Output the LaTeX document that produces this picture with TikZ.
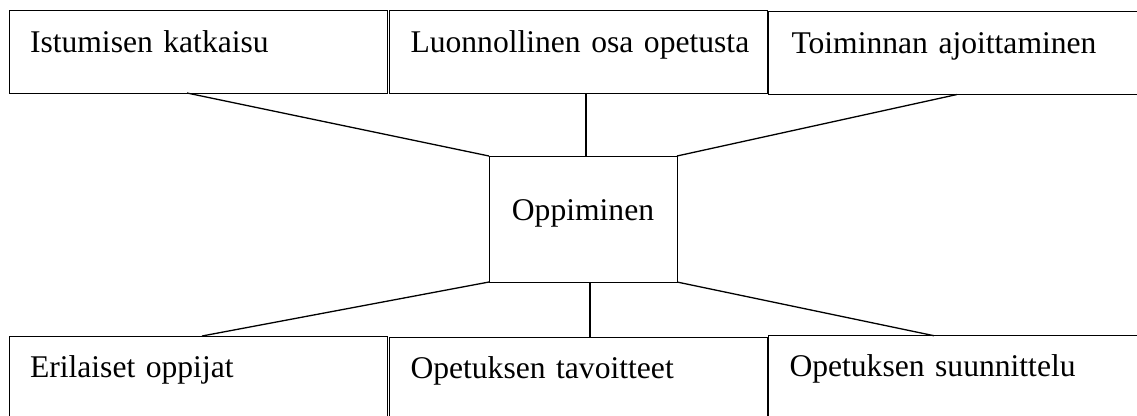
\documentclass[tikz,border=0pt]{standalone}
\usepackage{fontspec}
\setmainfont{Liberation Serif}
\begin{document}
\begin{tikzpicture}[x=1bp,y=-1bp,
  box/.style={draw=black, line width=1bp, anchor=north west, outer sep=0pt,
    inner xsep=21bp, inner ysep=0pt, align=left,
    font=\fontsize{31.6bp}{38bp}\selectfont},
  topbox/.style={box, text height=42bp, text depth=41bp},
  botbox/.style={box, text height=41bp, text depth=50bp},
  hub/.style={draw=black, line width=1bp, anchor=north west, outer sep=0pt,
    inner sep=0pt, align=center, text width=188bp,
    text height=64bp, text depth=62bp,
    font=\fontsize{31.6bp}{38bp}\selectfont},
  conn/.style={draw=black, line width=1.3bp}]
\useasboundingbox (0,0) rectangle (1137,415);
\fill[white] (0,0) rectangle (1137,415);
\clip (0,0) rectangle (1137,415);
\node[topbox, text width=336.5bp] (b1) at (9,10) {\mbox{Istumisen katkaisu}};
\node[topbox, text width=335.5bp] (b2) at (389.5,10.3) {\mbox{Luonnollinen osa opetusta}};
\node[topbox, text width=340bp, inner xsep=23bp] (b3) at (768.5,11.5) {\mbox{Toiminnan ajoittaminen}};
\node[botbox, text width=336.5bp] (b4) at (9,336) {\mbox{Erilaiset oppijat}};
\node[botbox, text width=335.5bp] (b5) at (389.5,337.3) {\mbox{Opetuksen tavoitteet}};
\node[botbox, text width=340bp] (b6) at (768.5,335.7) {\mbox{Opetuksen suunnittelu}};
\node[hub] (c) at (489,156) {Oppiminen};
\coordinate (p1) at ([xshift=178bp]b1.south west);
\coordinate (p2) at ([xshift=196.5bp]b2.south west);
\coordinate (p3) at ([xshift=188.5bp]b3.south west);
\coordinate (p4) at ([xshift=193bp]b4.north west);
\coordinate (p5) at ([xshift=200.5bp]b5.north west);
\coordinate (p6) at ([xshift=165.5bp]b6.north west);
\draw[conn] (p1) -- (c.north west);
\draw[conn] (p2) -- (p2 |- c.north);
\draw[conn] (p3) -- (c.north east);
\draw[conn] (c.south west) -- (p4);
\draw[conn] (p5 |- c.south) -- (p5);
\draw[conn] (c.south east) -- (p6);
\end{tikzpicture}
\end{document}
